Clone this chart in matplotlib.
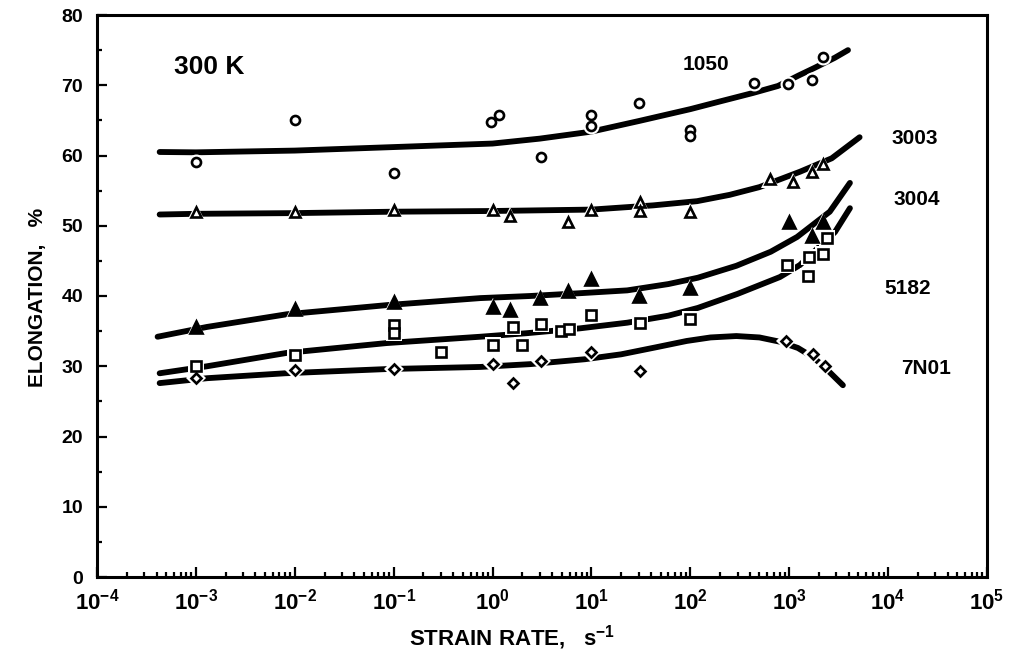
import matplotlib
matplotlib.use('Agg')
import matplotlib.pyplot as plt
from matplotlib.ticker import LogLocator, NullFormatter, MultipleLocator

plt.rcParams['font.family'] = ['Liberation Sans', 'DejaVu Sans']
plt.rcParams['font.weight'] = 'bold'
plt.rcParams['mathtext.fontset'] = 'custom'
plt.rcParams['mathtext.rm'] = 'Liberation Sans:bold'
plt.rcParams['mathtext.it'] = 'Liberation Sans:bold'
plt.rcParams['mathtext.bf'] = 'Liberation Sans:bold'

# ---------------- data: measured points ----------------
x_1050 = [1e-3, 1e-2, 0.1, 0.96, 1.16, 3.1, 10, 10, 30, 100, 100, 440, 970, 1700, 2190]
y_1050 = [59.1, 65.1, 57.5, 64.8, 65.8, 59.8, 65.8, 64.2, 67.5, 63.6, 62.8, 70.3, 70.2, 70.7, 74.0]

x_3003 = [1e-3, 1e-2, 0.1, 1.0, 1.5, 5.8, 10, 31, 31, 100, 640, 1100, 1700, 2200]
y_3003 = [51.9, 51.9, 52.2, 52.2, 51.4, 50.5, 52.2, 53.4, 52.1, 52.0, 56.6, 56.2, 57.6, 58.8]

x_3004 = [1e-3, 1e-2, 0.1, 1.0, 1.5, 3.0, 5.8, 10, 30, 100, 1000, 1700, 2200]
y_3004 = [35.6, 38.1, 39.1, 38.4, 38.0, 39.7, 40.7, 42.4, 40.0, 41.1, 50.5, 48.5, 50.5]

x_5182 = [1e-3, 1e-2, 0.1, 0.1, 0.3, 1.0, 1.6, 2.0, 3.1, 4.9, 5.9, 10, 31, 100, 950, 1550, 1570, 2200, 2400]
y_5182 = [30.0, 31.6, 35.9, 34.7, 32.0, 33.0, 35.6, 33.0, 36.0, 35.0, 35.3, 37.3, 36.2, 36.7, 44.4, 42.8, 45.6, 46.0, 48.3]

x_7N01 = [1e-3, 1e-2, 0.1, 1.0, 1.6, 3.1, 10, 31, 930, 1740, 2300]
y_7N01 = [28.3, 29.5, 29.6, 30.3, 27.6, 30.7, 32.0, 29.3, 33.6, 31.7, 30.0]

# ---------------- data: fitted curves ----------------
fx_1050 = [4.3e-4, 1e-3, 1e-2, 0.1, 1, 3, 10, 30, 100, 200, 430, 770, 1250, 1820, 2880, 3930]
fy_1050 = [60.5, 60.45, 60.7, 61.2, 61.7, 62.4, 63.4, 64.9, 66.6, 67.7, 68.9, 69.9, 71.4, 72.5, 73.9, 75.0]

fx_3003 = [4.3e-4, 1e-3, 1e-2, 0.1, 1, 10, 42, 117, 250, 500, 1290, 2690, 5150]
fy_3003 = [51.6, 51.7, 51.8, 52.0, 52.1, 52.3, 52.9, 53.5, 54.4, 55.5, 57.7, 59.6, 62.6]

fx_3004 = [4.1e-4, 1.3e-3, 8.3e-3, 0.085, 0.75, 2.4, 7.7, 23, 60, 119, 292, 650, 1200, 2570, 4110]
fy_3004 = [34.2, 35.6, 37.4, 38.7, 39.7, 40.0, 40.4, 40.8, 41.7, 42.6, 44.3, 46.3, 48.4, 52.0, 56.1]

fx_5182 = [4.3e-4, 1.3e-3, 8.3e-3, 0.085, 0.75, 2.2, 7.7, 23, 60, 119, 300, 805, 1280, 2900, 4110]
fy_5182 = [29.0, 30.0, 31.9, 33.3, 34.2, 34.7, 35.4, 36.2, 37.2, 38.3, 40.3, 42.7, 44.4, 49.1, 52.5]

fx_7N01 = [4.3e-4, 1.3e-3, 8e-3, 0.085, 0.75, 2.4, 8.6, 20, 45, 92, 160, 292, 500, 800, 1225, 1740, 2300, 3490]
fy_7N01 = [27.6, 28.3, 29.0, 29.6, 29.9, 30.3, 31.0, 31.7, 32.7, 33.6, 34.1, 34.3, 34.1, 33.5, 32.6, 31.3, 29.8, 27.3]

alloys = ['1050', '3003', '3004', '5182', '7N01']
x_tick_exps = [-4, -3, -2, -1, 0, 1, 2, 3, 4, 5]
y_ticks = [0, 10, 20, 30, 40, 50, 60, 70, 80]

series = [
    (x_1050, y_1050, fx_1050, fy_1050, dict(marker='o', ms=6.5, mfc='white')),
    (x_3003, y_3003, fx_3003, fy_3003, dict(marker='^', ms=7.5, mfc='white')),
    (x_3004, y_3004, fx_3004, fy_3004, dict(marker='^', ms=8.5, mfc='black')),
    (x_5182, y_5182, fx_5182, fy_5182, dict(marker='s', ms=6.5, mfc='white')),
    (x_7N01, y_7N01, fx_7N01, fy_7N01, dict(marker='D', ms=5.5, mfc='white')),
]

fig = plt.figure(figsize=(10.18, 6.6), dpi=100)
ax = fig.add_axes([97/1018, 1-577/660, 890/1018, 562/660])
ax.set_xscale('log')
ax.set_xlim(1e-4, 1e5)
ax.set_ylim(0, 80)

for xs, ys, fx, fy, st in series:
    ax.plot(fx, fy, color='black', lw=4.2, solid_capstyle='round',
            solid_joinstyle='round', zorder=2)
    ax.plot(xs, ys, linestyle='none', marker=st['marker'], ms=st['ms'] + 5,
            mfc='white', mec='white', mew=0, zorder=3)
    ax.plot(xs, ys, linestyle='none', marker=st['marker'], ms=st['ms'],
            mfc=st['mfc'], mec='black', mew=1.9, zorder=4)

ax.set_xticks([10.0**k for k in x_tick_exps])
ax.set_xticklabels(['$10^{%d}$' % k for k in x_tick_exps])
ax.xaxis.set_minor_locator(LogLocator(base=10, subs=range(2, 10), numticks=100))
ax.xaxis.set_minor_formatter(NullFormatter())
ax.set_yticks(y_ticks)
ax.set_yticklabels([str(v) for v in y_ticks])
ax.yaxis.set_minor_locator(MultipleLocator(5))

ax.tick_params(which='both', direction='in', top=False, right=False, width=1.6)
ax.tick_params(which='major', length=7)
ax.tick_params(which='minor', length=3.5)
ax.tick_params(axis='x', which='major', labelsize=16, pad=8)
ax.tick_params(axis='y', which='major', labelsize=14, pad=10)
for sp in ax.spines.values():
    sp.set_linewidth(2.2)

# curve labels
label_pos = {'1050': (706, 65), '3003': (915, 139), '3004': (917, 200),
             '5182': (908, 289), '7N01': (926, 369)}
for name in alloys:
    px, py = label_pos[name]
    fig.text(px/1018, 1-py/660, name, ha='center', va='center', fontsize=15, fontweight='bold')

fig.text(209/1018, 1-67/660, '300 K', ha='center', va='center', fontsize=19, fontweight='bold')

fig.text(512/1018, 1-638/660, 'STRAIN RATE,   s$^{-1}$', ha='center', va='center',
         fontsize=16, fontweight='bold')
fig.text(38/1018, 1-297/660, 'ELONGATION,   %', ha='center', va='center',
         rotation=90, fontsize=15, fontweight='bold')

fig.savefig('out.png', dpi=100)
